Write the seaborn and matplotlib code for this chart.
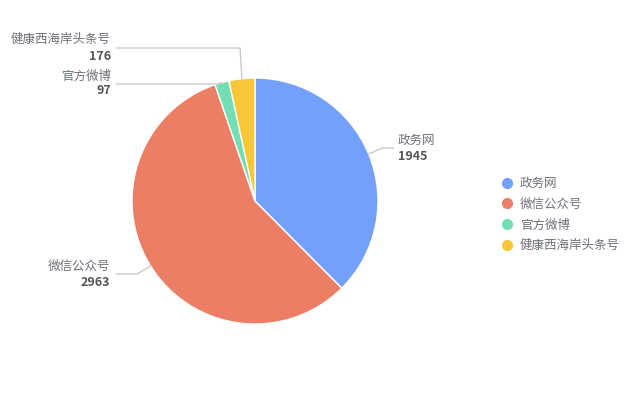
import matplotlib
matplotlib.use("Agg")
import numpy as np
import matplotlib.pyplot as plt
import seaborn as sns
from matplotlib.lines import Line2D

categories = ["政务网", "微信公众号", "官方微博", "健康西海岸头条号"]
values = [1945, 2963, 97, 176]
colors = ["#73a0fa", "#eb7e65", "#73deb3", "#f7c739"]

sns.set_theme(style="white")
plt.rcParams["font.family"] = ["Noto Sans CJK SC", "DejaVu Sans"]

W, H = 640, 416
cx, cy, R = 255, 201, 123

fig = plt.figure(figsize=(6.4, 4.16), dpi=100)
ax = fig.add_axes([(cx - R) / W, 1 - (cy + R) / H, 2 * R / W, 2 * R / H])
wedges, _ = ax.pie(values, colors=colors, startangle=90, counterclock=False,
                   wedgeprops=dict(edgecolor="white", linewidth=1))
ax.set_xlim(-1, 1)
ax.set_ylim(-1, 1)
ax.set_aspect("auto")
ax.axis("off")


def to_data(px, py):
    return (px - cx) / R, (cy - py) / R


# leader line layout in pixels: elbow, end, text x, name y, value y, align
layout = [
    ((382, 148), (394, 148), 398, 140, 157, "left"),
    ((137, 274), (116, 274), 110, 266, 282, "right"),
    ((218, 84), (116, 84), 111, 76, 91, "right"),
    ((240, 48), (116, 48), 111, 39, 56, "right"),
]

for w, name, val, (elbow, end, tx, ny, vy, ha) in zip(wedges, categories, values, layout):
    mid = np.deg2rad((w.theta1 + w.theta2) / 2)
    ex, ey = np.cos(mid), np.sin(mid)
    bx, by = to_data(*elbow)
    fx, fy = to_data(*end)
    ax.plot([ex, bx, fx], [ey, by, fy], color="#c4c4c4", lw=0.9, clip_on=False)
    x, y = to_data(tx, ny)
    ax.text(x, y, name, ha=ha, va="center", fontsize=9, color="#6e7079")
    x, y = to_data(tx, vy)
    ax.text(x, y, str(val), ha=ha, va="center", fontsize=9, color="#555555",
            fontweight="bold")

handles = [Line2D([], [], marker="o", linestyle="", markersize=7,
                  markerfacecolor=c, markeredgecolor=c) for c in colors]
leg = fig.legend(handles, categories, loc="upper left",
                 bbox_to_anchor=(494 / W, 1 - 172 / H), frameon=False,
                 fontsize=9, labelspacing=0.62, handletextpad=0.45,
                 handlelength=1.2, borderaxespad=0)
for t in leg.get_texts():
    t.set_color("#6e7079")

fig.savefig("out.png", dpi=100)
